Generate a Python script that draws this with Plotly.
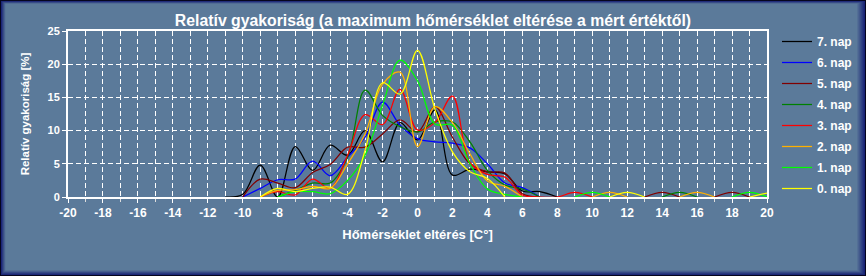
import plotly.graph_objects as go

# ---------------- data ----------------
x_vals = list(range(-11, 21))  # -11 .. 20

series_names = ["7. nap", "6. nap", "5. nap", "4. nap", "3. nap", "2. nap", "1. nap", "0. nap"]
series_colors = ["#000000", "#0000ff", "#800000", "#008000", "#ff0000", "#ffb000", "#00ff00", "#ffff00"]

N = None
#            -11  -10   -9   -8   -7   -6   -5   -4   -3    -2    -1     0     1     2    3    4    5    6    7    8    9   10   11   12   13   14   15   16   17   18   19   20
nap7 = [     0,  0.4, 4.8, 0.0, 7.6, 4.0, 7.8, 6.3, 10.0, 5.3, 11.2,  8.6, 13.1,  3.3, 4.2, 3.8, 3.5, 0.9, 0.8, 0.0,   N,   N,   N,   N,   N,   N,   N,   N,   N,   N,   N,   N]
nap6 = [     N,  0.0, 1.3, 2.6, 2.7, 5.4, 3.2, 6.0,  9.0, 14.3, 10.8,  8.8,  8.3,  8.1, 7.4, 5.0, 2.1, 1.4, 0.0,   N,   N,   N,   N,   N,   N,   N,   N,   N,   N,   N,   N,   N]
nap5 = [     N,  0.0, 2.7, 2.1, 1.4, 3.7, 4.9, 7.5,  7.5,  9.5, 11.6,  9.8, 13.6,  9.0, 5.0, 3.8, 3.6, 0.5, 0.0,   N,   N,   N,   N,   N, 0.0, 0.7, 0.0,   N, 0.0, 0.7, 0.0,   N]
nap4 = [     N,    N,   N, 0.0, 1.0, 2.1, 2.1, 6.0, 16.1, 12.3, 10.6,  9.8, 11.3, 11.3, 8.3, 4.0, 1.8, 1.2, 0.0,   N,   N,   N,   N,   N,   N, 0.0, 0.7, 0.0,   N,   N,   N,   N]
nap3 = [     N,    N, 0.0, 0.8, 0.3, 2.7, 1.3, 6.3, 12.4, 10.9, 16.2, 10.1, 11.2, 15.2, 5.2, 3.4, 3.0, 0.3, 0.0, 0.0, 0.7, 0.0,   N,   N,   N,   N,   N,   N,   N,   N,   N,   N]
nap2 = [     N,    N, 0.0, 1.0, 1.1, 1.6, 1.3, 5.0,  9.5, 17.0, 18.8,  7.6, 13.6, 11.2, 6.5, 2.4, 1.6, 0.0,   N,   N,   N, 0.0, 0.7, 0.0,   N,   N, 0.0, 0.7, 0.0,   N,   N,   N]
nap1 = [     N,    N,   N, 0.0, 0.8, 0.8, 0.5, 2.5,  6.3, 13.8, 20.6, 17.5, 11.0, 10.8, 5.0, 1.2, 0.4, 0.0,   N,   N, 0.0, 0.7, 0.0,   N,   N,   N,   N,   N,   N, 0.0, 0.7, 0.0]
nap0 = [     N,    N, 0.0, 1.3, 0.8, 1.3, 1.5, 0.4,  7.0, 17.2, 15.5, 22.1, 13.2,  6.8, 3.8, 2.8, 0.0,   N,   N,   N,   N,   N, 0.0, 0.7, 0.0,   N,   N,   N,   N,   N, 0.0, 0.6]

series_values = [nap7, nap6, nap5, nap4, nap3, nap2, nap1, nap0]

x_tick_vals = list(range(-20, 21, 2))
x_tick_labels = ["-20", "-18", "-16", "-14", "-12", "-10", "-8", "-6", "-4", "-2", "0",
                 "2", "4", "6", "8", "10", "12", "14", "16", "18", "20"]
y_tick_vals = [0, 5, 10, 15, 20, 25]

title_text = "Relatív gyakoriság (a maximum hőmérséklet eltérése a mért értéktől)"
x_title = "Hőmérséklet eltérés [C°]"
y_title = "Relatív gyakoriság [%]"

# ---------------- layout geometry ----------------
W, H = 866, 276
ML, MR, MT, MB = 68, 99, 31, 79
PW = W - ML - MR
PH = H - MT - MB


def px_x(px):
    return (px - ML) / PW


def px_y(py):
    return (H - MB - py) / PH


BG = (91, 122, 154)
EDGE = (24, 34, 118)

SANS = "Liberation Sans, Arial, sans-serif"

fig = go.Figure()

for name, color, vals in zip(series_names, series_colors, series_values):
    fig.add_trace(go.Scatter(
        x=x_vals, y=vals, mode="lines", name=name, legendgroup=name,
        line=dict(color=color, width=1.25, shape="spline", smoothing=1.0),
        connectgaps=False, hoverinfo="x+y+name",
    ))

# bevelled frame
shapes = [dict(type="rect", xref="paper", yref="paper",
               x0=px_x(0), x1=px_x(W), y0=px_y(H), y1=px_y(0),
               fillcolor="#05051e", line=dict(width=0), layer="below")]
n = 9
for i in range(n):
    t = i / (n - 1)
    c = tuple(int(round(EDGE[k] * (1 - t) + BG[k] * t)) for k in range(3))
    l = 1 + i * 0.55
    tp = 1 + i * 0.35
    r = 1 + i * 1.0
    b = 1 + i * 0.6
    shapes.append(dict(type="rect", xref="paper", yref="paper",
                       x0=px_x(l), x1=px_x(W - r), y0=px_y(H - b), y1=px_y(tp),
                       fillcolor="rgb(%d,%d,%d)" % c, line=dict(width=0), layer="below"))

fig.update_layout(
    width=W, height=H,
    margin=dict(l=ML, r=MR, t=MT, b=MB, pad=0, autoexpand=False),
    paper_bgcolor="rgb(%d,%d,%d)" % BG,
    plot_bgcolor="rgba(0,0,0,0)",
    shapes=shapes,
    showlegend=True,
    title=dict(text=title_text, x=0.5, xref="container", xanchor="center",
               y=1 - 20 / H, yref="container", yanchor="middle",
               font=dict(family=SANS, size=15.8, color="white", weight="bold")),
    legend=dict(x=px_x(777), xanchor="left", y=px_y(27), yanchor="top",
                bgcolor="rgba(0,0,0,0)", borderwidth=0,
                font=dict(family=SANS, size=12, color="white", weight="bold"),
                tracegroupgap=2, itemwidth=30),
    xaxis=dict(range=[-20, 20], tickvals=x_tick_vals, ticktext=x_tick_labels, showgrid=True,
               gridcolor="white", griddash="5px,3px", gridwidth=1,
               minor=dict(dtick=1, showgrid=True, gridcolor="white", griddash="5px,3px",
                          gridwidth=1, ticks="outside", ticklen=3, tickcolor="#dddddd"),
               showline=True, linecolor="white", linewidth=2, mirror=True,
               ticks="outside", ticklen=4, tickcolor="white",
               tickfont=dict(family=SANS, size=12, color="white", weight="bold"),
               title=dict(text=x_title, standoff=10,
                          font=dict(family=SANS, size=13, color="white", weight="bold")),
               zeroline=False, layer="below traces"),
    yaxis=dict(range=[0, 25], tickvals=y_tick_vals, showgrid=True,
               gridcolor="white", griddash="5px,3px", gridwidth=1,
               showline=True, linecolor="white", linewidth=2, mirror=True,
               ticks="outside", ticklen=4, tickcolor="white",
               tickfont=dict(family=SANS, size=11, color="white", weight="bold"),
               title=dict(text=y_title, standoff=16,
                          font=dict(family=SANS, size=11.5, color="white", weight="bold")),
               zeroline=False, layer="below traces"),
)

try:
    fig.update_layout(legend_maxheight=260)
except Exception:
    pass

fig.write_html("out.html")
